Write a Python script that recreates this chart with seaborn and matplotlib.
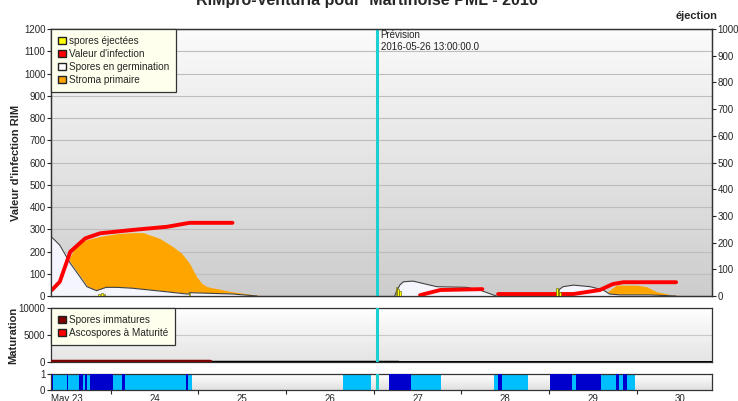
import numpy as np
import matplotlib
matplotlib.use("Agg")
import matplotlib.pyplot as plt
from matplotlib.colors import LinearSegmentedColormap
from matplotlib.patches import Patch
import seaborn as sns

# x values are days of May 2016
infect1_t = [22.83, 22.92, 23.04, 23.21, 23.38, 23.75, 24.14, 24.40, 24.89]
infect1_v = [27, 64, 199, 259, 282, 297, 311, 329, 329]
infect2_t = [27.03, 27.26, 27.74]
infect2_v = [4, 27, 31]
infect3_t = [27.92, 28.78, 29.08, 29.23, 29.35, 29.95]
infect3_v = [9, 9, 27, 54, 62, 62]

stroma1_t = [22.88, 22.98, 23.08, 23.2, 23.38, 23.57, 23.75, 23.87, 24.06, 24.21, 24.31,
             24.40, 24.48, 24.54, 24.6, 24.89, 25.17, 25.28]
stroma1_v = [0, 130, 210, 250, 268, 280, 285, 285, 259, 222, 192, 147, 87, 57, 42, 19, 4, 0]
stroma2_t = [29.08, 29.19, 29.27, 29.50, 29.61, 29.73, 29.88, 30.03]
stroma2_v = [0, 25, 49, 49, 42, 19, 7, 0]

germ1_t = [22.82, 22.83, 22.92, 23.04, 23.15, 23.23, 23.34, 23.45, 23.57, 23.75, 24.14,
           24.37, 24.39, 24.40, 24.89, 25.17]
germ1_v = [264, 264, 229, 147, 87, 42, 24, 39, 39, 35, 19, 9, 9, 15, 9, 0]
germ2_t = [26.74, 26.76, 26.80, 26.84, 26.95, 27.22, 27.56, 27.71, 27.90]
germ2_v = [0, 20, 50, 64, 67, 42, 39, 27, 0]
germ3_t = [28.57, 28.59, 28.62, 28.66, 28.78, 28.97, 29.12, 29.19, 29.31, 29.65, 29.95]
germ3_v = [0, 12, 30, 42, 49, 42, 27, 9, 5, 5, 0]

eject_t = [23.37, 23.40, 23.43, 24.40, 26.76, 26.78, 26.80, 28.59, 28.61, 28.63]
eject_v = [8, 10, 6, 12, 32, 26, 20, 30, 24, 16]

immat_t = [22.82, 24.63]
immat_v = [90, 90]
matur_t = [24.63, 26.78]
matur_v = [60, 60]
matur_rest_t = [26.78, 30.36]
matur_rest_v = [20, 20]

humid_start = [22.82, 26.150, 26.925, 27.871, 28.761]
humid_end = [24.428, 26.469, 27.267, 28.259, 29.479]
wet_start = [22.831, 23.002, 23.139, 23.208, 23.265, 23.630, 24.359, 26.674, 27.917,
             28.510, 28.806, 29.262, 29.342]
wet_end = [22.843, 23.014, 23.185, 23.230, 23.527, 23.664, 24.382, 26.925, 27.963,
           28.761, 29.091, 29.297, 29.388]

forecast = 26.54
day_ticks = [23, 24, 25, 26, 27, 28, 29, 30]
day_labels = ["May 23", "24", "25", "26", "27", "28", "29", "30"]

sns.set_style("white")
plt.rcParams['font.family'] = ['Liberation Sans', 'DejaVu Sans']

fig = plt.figure(figsize=(7.38, 4.01), dpi=100)
ax = fig.add_axes([0.0691, 0.2618, 0.8957, 0.6658])
axm = fig.add_axes([0.0691, 0.0973, 0.8957, 0.1347])
axs = fig.add_axes([0.0691, 0.0274, 0.8957, 0.0399])
xlim = (22.82, 30.36)


def gradient(a, top, bottom):
    cmap = LinearSegmentedColormap.from_list("g", [bottom, top])
    a.imshow(np.linspace(0, 1, 100).reshape(-1, 1), extent=[0, 1, 0, 1], origin="lower",
             transform=a.transAxes, aspect="auto", cmap=cmap, zorder=-1)
    a.patch.set_visible(False)


def style_legend(leg):
    leg.get_frame().set_facecolor("#ffffee")
    leg.get_frame().set_edgecolor("#333333")
    leg.get_frame().set_linewidth(0.9)


# main chart
gradient(ax, "#fbfbfb", "#cdcdcd")
ax.set_axisbelow(True)
ax.grid(axis="y", color="#bdbdbd", lw=0.8)
ax.fill_between(stroma1_t, stroma1_v, color="#ffa500", lw=0, zorder=2)
ax.fill_between(stroma2_t, stroma2_v, color="#ffa500", lw=0, zorder=2)
for t, v in [(germ1_t, germ1_v), (germ2_t, germ2_v), (germ3_t, germ3_v)]:
    ax.fill_between(t, v, color="#f5f6fd", zorder=3)
    ax.plot(t, v, color="#404040", lw=0.8, zorder=3)
for t, v in [(infect1_t, infect1_v), (infect2_t, infect2_v), (infect3_t, infect3_v)]:
    sns.lineplot(x=t, y=v, ax=ax, color="#ff0000", lw=2.8, zorder=4)
ax.axvline(forecast, color="#1ccfd0", lw=2.2, zorder=5)
ax.text(forecast + 0.04, 1195, "Prévision\n2016-05-26 13:00:00.0", fontsize=7,
        va="top", ha="left", color="#222222", linespacing=1.25)
ax.set_xticks([])
ax.set_xlim(xlim)
ax.set_ylim(0, 1200)
ax.set_yticks(range(0, 1201, 100))
ax.set_ylabel("Valeur d'infection RIM", fontsize=8, weight="bold")
ax.yaxis.set_label_coords(-0.045, 0.5)
ax.tick_params(axis="y", labelsize=7, length=3, direction="out", left=True, pad=1)

ax2 = ax.twinx()
ax2.bar(eject_t, eject_v, width=0.02, color="#ffff00", edgecolor="#555500", lw=0.4, zorder=6)
ax2.set_ylim(0, 1000)
ax2.set_yticks(range(0, 1001, 100))
ax2.tick_params(axis="y", labelsize=7, length=3, direction="out", right=True, pad=1)
ax2.set_xlim(xlim)
fig.text(0.973, 1 - 19 / 401, "éjection", fontsize=8, weight="bold", ha="right")

handles = [Patch(facecolor="#ffff00", edgecolor="#222222", label="spores éjectées"),
           Patch(facecolor="#ff0000", edgecolor="#222222", label="Valeur d'infection"),
           Patch(facecolor="#ffffff", edgecolor="#222222", label="Spores en germination"),
           Patch(facecolor="#ffa500", edgecolor="#222222", label="Stroma primaire")]
leg = ax2.legend(handles=handles, loc="upper left", fontsize=7.2, fancybox=False,
                 borderaxespad=0, handlelength=0.8, handleheight=0.8, handletextpad=0.3,
                 labelspacing=0.3, borderpad=0.7, framealpha=1)
style_legend(leg)

# maturation chart
gradient(axm, "#ffffff", "#e4e4e4")
axm.set_axisbelow(True)
axm.grid(axis="y", color="#c8c8c8", lw=0.8)
sns.lineplot(x=matur_t, y=matur_v, ax=axm, color="black", lw=2.5, zorder=3)
sns.lineplot(x=matur_rest_t, y=matur_rest_v, ax=axm, color="black", lw=1.4, zorder=3)
sns.lineplot(x=immat_t, y=immat_v, ax=axm, color="#7a0000", lw=2.5, zorder=4)
axm.axvline(forecast, color="#1ccfd0", lw=2.2, zorder=5)
axm.set_xticks([])
axm.set_xlim(xlim)
axm.set_ylim(0, 10000)
axm.set_yticks([0, 5000, 10000])
axm.set_ylabel("Maturation", fontsize=8, weight="bold")
axm.yaxis.set_label_coords(-0.05, 0.5)
axm.tick_params(axis="y", labelsize=7, length=3, direction="out", left=True, pad=1)
handles2 = [Patch(facecolor="#800000", edgecolor="#222222", label="Spores immatures"),
            Patch(facecolor="#ff0000", edgecolor="#222222", label="Ascospores à Maturité")]
leg2 = axm.legend(handles=handles2, loc="upper left", fontsize=7.2, fancybox=False,
                  borderaxespad=0, handlelength=0.8, handleheight=0.8, handletextpad=0.3,
                  labelspacing=0.3, borderpad=0.7, framealpha=1)
style_legend(leg2)

# wetness strip
gradient(axs, "#ffffff", "#e0e0e0")
for s, e in zip(humid_start, humid_end):
    axs.axvspan(s, e, color="#00bfff", lw=0, zorder=2)
for s, e in zip(wet_start, wet_end):
    axs.axvspan(s, e, color="#0000cd", lw=0, zorder=3)
axs.axvline(forecast, color="#1ccfd0", lw=2.2, zorder=5)
axs.set_xticks(day_ticks)
axs.set_xticklabels(day_labels)
axs.set_xticks([d + 0.5 for d in day_ticks[:-1]], minor=True)
axs.set_xlim(xlim)
axs.set_ylim(0, 1)
axs.set_yticks([0, 1])
axs.tick_params(axis="x", which="major", length=0, labelsize=7, pad=3)
axs.tick_params(axis="x", which="minor", length=3, direction="out", bottom=True, width=0.8)
axs.tick_params(axis="y", labelsize=7, length=3, direction="out", left=True, pad=1)

for a in [ax, ax2, axm, axs]:
    for sp in a.spines.values():
        sp.set_color("#333333")
        sp.set_linewidth(0.9)

fig.text(0.497, 1 - 5 / 401, "RIMpro-Venturia pour  Martinoise PML - 2016", fontsize=11.5,
         weight="bold", ha="center", va="baseline")

fig.savefig("out.png", dpi=100)
